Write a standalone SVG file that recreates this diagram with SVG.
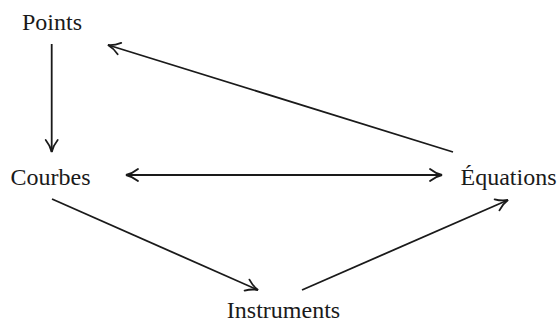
<svg xmlns="http://www.w3.org/2000/svg" width="560" height="322" viewBox="0 0 560 322">
<style>
  text { font-family: 'Liberation Serif', 'Times New Roman', 'DejaVu Serif', serif; font-size: 24px; fill: #1a1a1a; text-anchor: middle; }
  .edge { stroke: #1a1a1a; stroke-width: 1.8; fill: none; }
</style>
<defs>
  <marker id="arr" markerUnits="userSpaceOnUse" viewBox="-14 -8 16 16" markerWidth="16" markerHeight="16" refX="0" refY="0" orient="auto-start-reverse">
    <path d="M-12,-6 C-8,-2.8 -3.5,-0.8 0,0 C-3.5,0.8 -8,2.8 -12,6" fill="none" stroke="#1a1a1a" stroke-width="1.8" stroke-linecap="round"/>
  </marker>
</defs>
<rect width="560" height="322" fill="#ffffff"/>
<g id="connectors">
  <line class="edge" x1="51.7" y1="44" x2="51.7" y2="152" marker-end="url(#arr)"/>
  <line class="edge" x1="453" y1="152" x2="108" y2="45" marker-end="url(#arr)"/>
  <line class="edge" x1="126" y1="175" x2="442" y2="175" marker-start="url(#arr)" marker-end="url(#arr)"/>
  <line class="edge" x1="52" y1="199" x2="258" y2="290" marker-end="url(#arr)"/>
  <line class="edge" x1="302" y1="290" x2="508" y2="200" marker-end="url(#arr)"/>
</g>
<g id="node-points"><text font-family="Liberation Serif, serif" x="52" y="30">Points</text></g>
<g id="node-courbes"><text font-family="Liberation Serif, serif" x="50.5" y="184.5">Courbes</text></g>
<g id="node-equations"><text font-family="Liberation Serif, serif" x="508.5" y="184.5">Équations</text></g>
<g id="node-instruments"><text font-family="Liberation Serif, serif" x="283.5" y="317.5">Instruments</text></g>
</svg>
